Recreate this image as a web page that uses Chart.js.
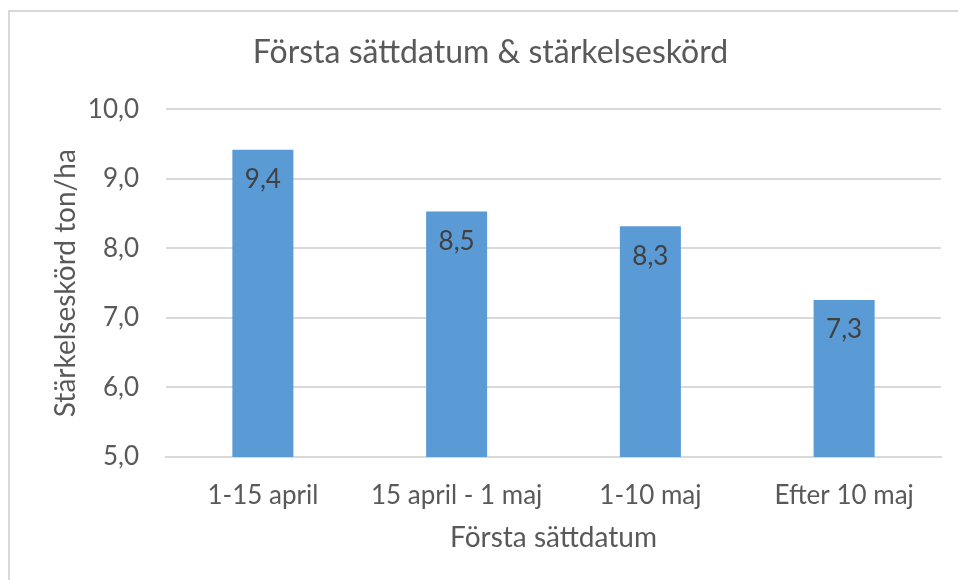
<!DOCTYPE html>
<html lang="sv">
<head>
    <meta charset="UTF-8">
    <title>Första sättdatum & stärkelseskörd</title>
    <script src="https://cdn.jsdelivr.net/npm/chart.js"></script>
    <style>
        html, body { margin: 0; padding: 0; background: #fff; }
        .frame {
            position: absolute;
            left: 8px; top: 10px;
            width: 980px; height: 600px;
            border: 2px solid #d9d9d9;
            box-sizing: border-box;
        }
        .chart-box {
            position: absolute;
            left: 0; top: 0;
            width: 958px; height: 580px;
        }
    </style>
</head>
<body>
    <div class="frame"></div>
    <div class="chart-box">
        <canvas id="starchChart"></canvas>
    </div>

    <script>
        // Data
        const plantingPeriods = ['1-15 april', '15 april - 1 maj', '1-10 maj', 'Efter 10 maj'];
        const starchYield = [9.42, 8.53, 8.32, 7.26];
        const yTicks = [5, 6, 7, 8, 9, 10];

        const textColor = '#595959';
        const fontFamily = 'Lato, "Open Sans", sans-serif';

        const fmt = v => v.toFixed(1).replace('.', ',');

        // Draw value labels just inside the top of each bar
        const barLabels = {
            id: 'barLabels',
            afterDatasetsDraw(chart) {
                const ctx = chart.ctx;
                const meta = chart.getDatasetMeta(0);
                ctx.save();
                ctx.font = '26px ' + fontFamily;
                ctx.fillStyle = '#404040';
                ctx.textAlign = 'center';
                ctx.textBaseline = 'middle';
                meta.data.forEach((bar, i) => {
                    ctx.fillText(fmt(starchYield[i]), bar.x, bar.y + 30);
                });
                ctx.restore();
            }
        };

        new Chart(document.getElementById('starchChart'), {
            type: 'bar',
            data: {
                labels: plantingPeriods,
                datasets: [{
                    data: starchYield,
                    backgroundColor: '#5b9bd5',
                    borderWidth: 0,
                    barPercentage: 0.315,
                    categoryPercentage: 1
                }]
            },
            options: {
                responsive: true,
                maintainAspectRatio: false,
                animation: false,
                layout: { padding: { top: 18, right: 17, bottom: 0, left: 40 } },
                plugins: {
                    legend: { display: false },
                    tooltip: { enabled: false },
                    title: {
                        display: true,
                        text: 'Första sättdatum & stärkelseskörd',
                        color: textColor,
                        font: { family: fontFamily, size: 32, weight: 'normal' },
                        padding: { top: 15, bottom: 38 }
                    }
                },
                scales: {
                    x: {
                        grid: { display: false },
                        border: { color: '#d9d9d9', width: 2 },
                        ticks: {
                            color: textColor,
                            font: { family: fontFamily, size: 26 },
                            padding: 15,
                            maxRotation: 0
                        },
                        title: {
                            display: true,
                            text: 'Första sättdatum',
                            color: textColor,
                            font: { family: fontFamily, size: 28 },
                            padding: { top: 0, bottom: 25 }
                        },
                        afterFit(scale) { scale.height = 123; }
                    },
                    y: {
                        min: 5,
                        max: 10,
                        afterBuildTicks(scale) {
                            scale.ticks = yTicks.map(v => ({ value: v }));
                        },
                        grid: { color: '#d9d9d9', lineWidth: 2, drawTicks: false },
                        border: { display: false },
                        ticks: {
                            color: textColor,
                            font: { family: fontFamily, size: 26 },
                            padding: 27,
                            callback: v => fmt(v)
                        },
                        title: {
                            display: true,
                            text: 'Stärkelseskörd ton/ha',
                            color: textColor,
                            font: { family: fontFamily, size: 28 },
                            padding: { top: 9, bottom: 0 }
                        },
                        afterFit(scale) { scale.width = 126; }
                    }
                }
            },
            plugins: [barLabels]
        });
    </script>
</body>
</html>
